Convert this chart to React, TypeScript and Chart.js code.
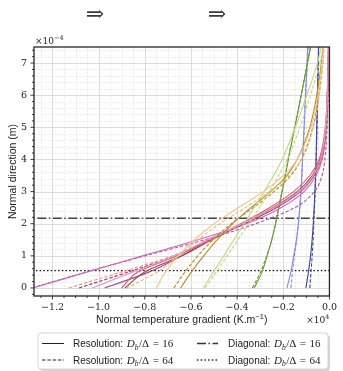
import React, { useEffect, useRef } from "react";
import { Chart, registerables } from "chart.js";
Chart.register(...registerables);

// Normal direction levels (×1e-4 m) at which each profile was read
const yLevels = [0, 0.5, 1, 1.5, 2, 2.5, 3, 3.5, 4, 5, 6, 7, 8];

// Normal temperature gradient values (×1e4 K/m) for each profile
const navyS = [-0.102, -0.091, -0.082, -0.075, -0.07, -0.066, -0.063, -0.06, -0.058, -0.055, -0.052, -0.049, -0.046];
const navyD = [-0.085, -0.08, -0.075, -0.071, -0.068, -0.065, -0.062, -0.059, -0.057, -0.054, -0.051, -0.048, -0.045];
const blueS = [-0.184, -0.167, -0.155, -0.143, -0.135, -0.129, -0.124, -0.12, -0.117, -0.11, -0.104, -0.097, -0.091];
const blueD = [-0.167, -0.16, -0.152, -0.142, -0.134, -0.128, -0.123, -0.119, -0.116, -0.109, -0.103, -0.096, -0.09];
const oliveS = [-0.326, -0.292, -0.27, -0.25, -0.233, -0.219, -0.205, -0.191, -0.178, -0.15, -0.122, -0.095, -0.068];
const oliveD = [-0.334, -0.298, -0.272, -0.25, -0.234, -0.22, -0.206, -0.192, -0.179, -0.151, -0.123, -0.096, -0.069];
const ltGreenS = [-0.546, -0.502, -0.458, -0.414, -0.37, -0.326, -0.283, -0.242, -0.205, -0.148, -0.098, -0.052, -0.022];
const ltGreenD = [-0.538, -0.49, -0.443, -0.396, -0.35, -0.304, -0.26, -0.22, -0.183, -0.128, -0.082, -0.042, -0.016];
const goldS = [-0.645, -0.598, -0.545, -0.487, -0.42, -0.34, -0.255, -0.185, -0.14, -0.085, -0.055, -0.035, -0.022];
const goldD = [-0.674, -0.626, -0.57, -0.505, -0.425, -0.33, -0.24, -0.168, -0.122, -0.072, -0.046, -0.03, -0.02];
const peachS = [-0.75, -0.71, -0.655, -0.585, -0.5, -0.395, -0.285, -0.2, -0.14, -0.08, -0.05, -0.032, -0.02];
const peachD = [-0.88, -0.745, -0.655, -0.57, -0.475, -0.365, -0.26, -0.175, -0.12, -0.07, -0.044, -0.028, -0.018];
const redS = [-0.9, -0.83, -0.66, -0.52, -0.385, -0.26, -0.155, -0.085, -0.045, -0.018, -0.01, -0.006, -0.004];
const darkRedS = [-0.886, -0.8, -0.64, -0.51, -0.375, -0.245, -0.14, -0.074, -0.04, -0.016, -0.009, -0.005, -0.003];
const darkRedD = [-1.085, -0.87, -0.67, -0.52, -0.37, -0.235, -0.13, -0.068, -0.036, -0.015, -0.008, -0.005, -0.003];
const pinkD = [-1.13, -0.9, -0.68, -0.52, -0.375, -0.24, -0.135, -0.07, -0.037, -0.016, -0.009, -0.005, -0.003];
const orchidS = [-1.285, -1.05, -0.81, -0.57, -0.36, -0.21, -0.11, -0.058, -0.031, -0.013, -0.007, -0.004, -0.002];
const orchidD = [-1.29, -1.05, -0.8, -0.54, -0.32, -0.15, -0.065, -0.032, -0.02, -0.01, -0.006, -0.004, -0.002];
const magentaS = [-0.974, -0.78, -0.64, -0.52, -0.37, -0.23, -0.125, -0.066, -0.036, -0.016, -0.009, -0.005, -0.003];
const ltOrchidS = [-1.028, -0.85, -0.67, -0.53, -0.38, -0.24, -0.13, -0.07, -0.038, -0.017, -0.009, -0.005, -0.003];

// Diagonal reference heights (×1e-4 m)
const diag16 = 2.17;
const diag64 = 0.54;

// Axis extents and ticks
const xMin = -1.28, xMax = 0;
const yMin = -0.25, yMax = 7.5;
const legendLabels = ["Resolution: ", "Resolution: ", "Diagonal: ", "Diagonal: "];
const legendRatios = ["16", "64", "16", "64"];

const profiles: [number[], string, boolean][] = [
  [peachD, "#e6bd7e", true],
  [peachS, "#ebc994", false],
  [ltGreenS, "#c3d78e", false],
  [ltGreenD, "#c3d78e", true],
  [goldS, "#b68e2a", false],
  [goldD, "#b68e2a", true],
  [pinkD, "#eb969e", true],
  [ltOrchidS, "#de9ed8", false],
  [redS, "#d55f6c", false],
  [darkRedS, "#a8404a", false],
  [darkRedD, "#a8404a", true],
  [magentaS, "#a24c94", false],
  [orchidS, "#cc6cbf", false],
  [orchidD, "#b45aa8", true],
  [oliveS, "#729c3e", false],
  [oliveD, "#729c3e", true],
  [blueS, "#8a8ee0", false],
  [blueD, "#8a8ee0", true],
  [navyS, "#44489c", false],
  [navyD, "#44489c", true],
];

const SANS = '"Liberation Sans", Arial, sans-serif';
const SERIF = '"DejaVu Serif", serif';
const MSERIF = '"Liberation Serif", serif';

function fmtX(v: number) {
  if (Math.abs(v) < 1e-9) return "0.0";
  const s = Math.abs(v).toFixed(1);
  return (v < 0 ? "\u2212" : "") + s;
}

const decor = {
  id: "decor",
  beforeDatasetsDraw(chart: any) {
    const { ctx, chartArea: a, scales } = chart;
    const x = scales.x, y = scales.y;
    ctx.save();
    ctx.beginPath();
    ctx.rect(a.left, a.top, a.right - a.left, a.bottom - a.top);
    ctx.clip();
    // minor grid
    ctx.strokeStyle = "#e4e4e4";
    ctx.lineWidth = 0.7;
    ctx.setLineDash([2, 1.5]);
    for (let i = -26; i <= 0; i++) {
      if (i % 4 === 0) continue;
      const px = Math.round(x.getPixelForValue(i * 0.05)) + 0.5;
      ctx.beginPath(); ctx.moveTo(px, a.top); ctx.lineTo(px, a.bottom); ctx.stroke();
    }
    for (let i = -1; i <= 37; i++) {
      if (i % 5 === 0) continue;
      const py = Math.round(y.getPixelForValue(i * 0.2)) + 0.5;
      ctx.beginPath(); ctx.moveTo(a.left, py); ctx.lineTo(a.right, py); ctx.stroke();
    }
    // major grid
    ctx.setLineDash([]);
    ctx.strokeStyle = "#d8d8d8";
    ctx.lineWidth = 0.9;
    for (let i = -6; i <= 0; i++) {
      const px = Math.round(x.getPixelForValue(i * 0.2)) + 0.5;
      ctx.beginPath(); ctx.moveTo(px, a.top); ctx.lineTo(px, a.bottom); ctx.stroke();
    }
    for (let i = 0; i <= 7; i++) {
      const py = Math.round(y.getPixelForValue(i)) + 0.5;
      ctx.beginPath(); ctx.moveTo(a.left, py); ctx.lineTo(a.right, py); ctx.stroke();
    }
    ctx.restore();
  },
  afterDraw(chart: any) {
    const { ctx, chartArea: a, scales } = chart;
    const x = scales.x, y = scales.y;
    ctx.save();
    // frame
    ctx.strokeStyle = "#262626";
    ctx.lineWidth = 1.3;
    ctx.strokeRect(a.left, a.top, a.right - a.left, a.bottom - a.top);
    // tick marks
    ctx.lineWidth = 0.9;
    for (let i = -25; i <= 0; i++) {
      const px = x.getPixelForValue(i * 0.05);
      const len = i % 4 === 0 ? 3.5 : 2;
      ctx.beginPath(); ctx.moveTo(px, a.bottom); ctx.lineTo(px, a.bottom + len); ctx.stroke();
    }
    for (let i = -1; i <= 37; i++) {
      const py = y.getPixelForValue(i * 0.2);
      const len = i % 5 === 0 ? 3.5 : 2;
      ctx.beginPath(); ctx.moveTo(a.left, py); ctx.lineTo(a.left - len, py); ctx.stroke();
    }
    ctx.fillStyle = "#222";
    // axis titles
    ctx.font = `10.5px ${SANS}`;
    ctx.textAlign = "left";
    ctx.textBaseline = "alphabetic";
    const t1 = "Normal temperature gradient (K.m";
    const w1 = ctx.measureText(t1).width;
    ctx.font = `7.5px ${SANS}`;
    const wsup = ctx.measureText("\u22121").width;
    ctx.font = `10.5px ${SANS}`;
    const w3 = ctx.measureText(")").width;
    const cx = (a.left + a.right) / 2;
    const sx = cx - (w1 + wsup + w3) / 2;
    const by = 323;
    ctx.fillText(t1, sx, by);
    ctx.font = `7.5px ${SANS}`;
    ctx.fillText("\u22121", sx + w1, by - 4);
    ctx.font = `10.5px ${SANS}`;
    ctx.fillText(")", sx + w1 + wsup, by);

    ctx.save();
    ctx.translate(15.5, (a.top + a.bottom) / 2);
    ctx.rotate(-Math.PI / 2);
    ctx.textAlign = "center";
    ctx.fillText("Normal direction (m)", 0, 0);
    ctx.restore();

    // offset texts
    ctx.font = `9px ${SERIF}`;
    ctx.textAlign = "left";
    ctx.fillText("\u00d710", 35, 44);
    const wa = ctx.measureText("\u00d710").width;
    ctx.font = `6.5px ${SERIF}`;
    ctx.fillText("\u22124", 35 + wa, 40);

    ctx.font = `6.5px ${SERIF}`;
    const wb = ctx.measureText("4").width;
    ctx.font = `9px ${SERIF}`;
    const wc = ctx.measureText("\u00d710").width;
    ctx.fillText("\u00d710", a.right - wb - wc, 323);
    ctx.font = `6.5px ${SERIF}`;
    ctx.fillText("4", a.right - wb, 319);

    // arrows
    ctx.font = `22px "DejaVu Serif", serif`;
    ctx.fillStyle = "#3a3a3a";
    ctx.textAlign = "center";
    ctx.textBaseline = "middle";
    ctx.fillText("\u21d2", 95, 15);
    ctx.fillText("\u21d2", 217, 15);

    // legend
    const lx = 38, ly = 333, lw = 290, lh = 36;
    ctx.fillStyle = "rgba(0,0,0,0.16)";
    roundRect(ctx, lx + 2, ly + 2, lw, lh, 3);
    ctx.fill();
    ctx.fillStyle = "#fff";
    roundRect(ctx, lx, ly, lw, lh, 3);
    ctx.fill();
    ctx.strokeStyle = "#cccccc";
    ctx.lineWidth = 0.8;
    ctx.stroke();

    const rows = [343.5, 360];
    const styles: { dash: number[]; w: number; c: string }[] = [
      { dash: [], w: 1, c: "#222" },
      { dash: [3.5, 1.8], w: 1, c: "#222" },
      { dash: [9, 2.5, 1.5, 2.5], w: 1.5, c: "#333" },
      { dash: [1.5, 2.2], w: 1.3, c: "#222" },
    ];
    for (let k = 0; k < 4; k++) {
      const col = k < 2 ? 0 : 1;
      const row = k % 2;
      const x0 = col === 0 ? 42 : 197;
      const x1 = col === 0 ? 64 : 218;
      const yy = rows[row];
      const st = styles[k];
      ctx.strokeStyle = st.c;
      ctx.lineWidth = st.w;
      ctx.setLineDash(st.dash);
      ctx.beginPath(); ctx.moveTo(x0, yy); ctx.lineTo(x1, yy); ctx.stroke();
      ctx.setLineDash([]);
      drawEntry(ctx, col === 0 ? 73 : 228, yy + 3.5, legendLabels[k], legendRatios[k]);
    }
    ctx.restore();
  },
};

function roundRect(ctx: CanvasRenderingContext2D, x: number, y: number, w: number, h: number, r: number) {
  ctx.beginPath();
  ctx.moveTo(x + r, y);
  ctx.lineTo(x + w - r, y);
  ctx.quadraticCurveTo(x + w, y, x + w, y + r);
  ctx.lineTo(x + w, y + h - r);
  ctx.quadraticCurveTo(x + w, y + h, x + w - r, y + h);
  ctx.lineTo(x + r, y + h);
  ctx.quadraticCurveTo(x, y + h, x, y + h - r);
  ctx.lineTo(x, y + r);
  ctx.quadraticCurveTo(x, y, x + r, y);
  ctx.closePath();
}

function drawEntry(ctx: CanvasRenderingContext2D, x: number, y: number, label: string, num: string) {
  ctx.fillStyle = "#222";
  ctx.textAlign = "left";
  ctx.textBaseline = "alphabetic";
  ctx.font = `10px ${SANS}`;
  ctx.fillText(label, x, y);
  let cx = x + ctx.measureText(label).width + 1;
  ctx.font = `italic 11px ${MSERIF}`;
  ctx.fillText("D", cx, y);
  cx += ctx.measureText("D").width;
  ctx.font = `italic 7.5px ${MSERIF}`;
  ctx.fillText("b", cx, y + 2.5);
  cx += ctx.measureText("b").width + 0.5;
  ctx.font = `11px ${MSERIF}`;
  ctx.fillText("/\u0394", cx, y);
  cx += ctx.measureText("/\u0394").width + 3.5;
  ctx.fillText("=", cx, y);
  cx += ctx.measureText("=").width + 3.5;
  ctx.fillText(num, cx, y);
}

export default function App() {
  const ref = useRef<HTMLCanvasElement>(null);
  useEffect(() => {
    const datasets: any[] = profiles.map(([vals, color, dashed]) => ({
      data: vals.map((v, i) => ({ x: v, y: yLevels[i] })),
      borderColor: color,
      borderWidth: 1.15,
      borderDash: dashed ? [3.5, 1.8] : [],
      pointRadius: 0,
      fill: false,
      cubicInterpolationMode: "monotone",
    }));
    datasets.push({
      data: [{ x: -1.4, y: diag16 }, { x: 0.05, y: diag16 }],
      borderColor: "#444",
      borderWidth: 1.6,
      borderDash: [9, 2.5, 1.5, 2.5],
      pointRadius: 0,
      tension: 0,
      cubicInterpolationMode: "default",
    });
    datasets.push({
      data: [{ x: -1.4, y: diag64 }, { x: 0.05, y: diag64 }],
      borderColor: "#111",
      borderWidth: 1.4,
      borderDash: [1.5, 2.2],
      pointRadius: 0,
      tension: 0,
      cubicInterpolationMode: "default",
    });
    const chart = new Chart(ref.current!, {
      type: "line",
      data: { datasets },
      options: {
        responsive: false,
        animation: false,
        indexAxis: "y",
        devicePixelRatio: 1,
        layout: { padding: { left: 0, top: 47, right: 8, bottom: 0 } },
        plugins: { legend: { display: false }, tooltip: { enabled: false } },
        scales: {
          x: {
            type: "linear",
            position: "bottom",
            min: xMin,
            max: xMax,
            grid: { display: false, drawTicks: false },
            border: { display: false },
            ticks: {
              stepSize: 0.2,
              includeBounds: false,
              autoSkip: false,
              maxRotation: 0,
              padding: 6,
              color: "#222",
              font: { family: "DejaVu Serif", size: 9.5 },
              callback: (v: any) => fmtX(Number(v)),
            },
            afterFit: (s: any) => { s.height = 75; },
          },
          y: {
            type: "linear",
            position: "left",
            min: yMin,
            max: yMax,
            grid: { display: false, drawTicks: false },
            border: { display: false },
            ticks: {
              stepSize: 1,
              includeBounds: false,
              autoSkip: false,
              padding: 7,
              color: "#222",
              font: { family: "DejaVu Serif", size: 9.5 },
              callback: (v: any) => String(Math.round(Number(v))),
            },
            afterFit: (s: any) => { s.width = 34; },
          },
        },
      } as any,
      plugins: [decor],
    });
    return () => chart.destroy();
  }, []);
  return (
    <div style={{ position: "fixed", left: 0, top: 0, width: 343, height: 371, background: "#fff" }}>
      <canvas ref={ref} width={343} height={371} style={{ display: "block", width: 343, height: 371 }} />
    </div>
  );
}
